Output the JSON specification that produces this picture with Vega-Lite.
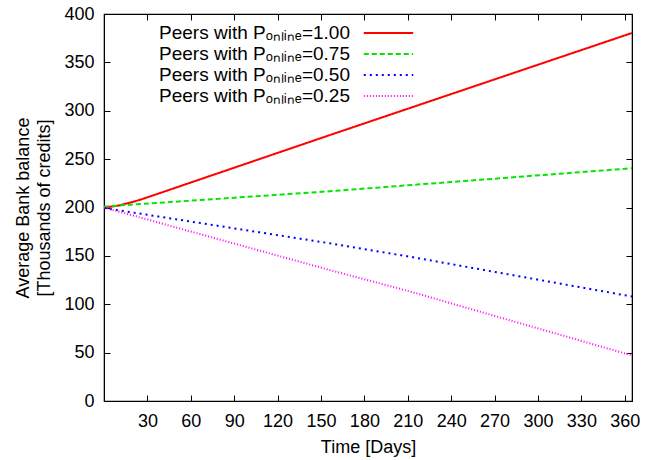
{
  "$schema": "https://vega.github.io/schema/vega-lite/v6.json",
  "width": 528,
  "height": 387,
  "autosize": "none",
  "padding": {"left": 104, "top": 14, "right": 33, "bottom": 59},
  "background": "white",
  "config": {
    "font": "Liberation Sans",
    "view": {"stroke": "black", "strokeWidth": 1.2},
    "axis": {
      "grid": false,
      "domainColor": "black",
      "tickColor": "black",
      "labelColor": "black",
      "titleColor": "black",
      "labelFontSize": 18,
      "titleFontSize": 18,
      "titleFontWeight": "normal",
      "tickSize": -6,
      "labelFlush": false,
      "labelOverlap": false
    }
  },
  "data": {
    "values": [
      {"p": "1.00", "day": 0, "balance": 200},
      {"p": "1.00", "day": 5, "balance": 200.8},
      {"p": "1.00", "day": 10, "balance": 202},
      {"p": "1.00", "day": 15, "balance": 203.8},
      {"p": "1.00", "day": 20, "balance": 205.8},
      {"p": "1.00", "day": 25, "balance": 208},
      {"p": "1.00", "day": 30, "balance": 210.5},
      {"p": "1.00", "day": 156, "balance": 274.8},
      {"p": "1.00", "day": 365, "balance": 380.4},
      {"p": "0.75", "day": 0, "balance": 201},
      {"p": "0.75", "day": 156, "balance": 216.8},
      {"p": "0.75", "day": 365, "balance": 240.6},
      {"p": "0.50", "day": 0, "balance": 199.5},
      {"p": "0.50", "day": 156, "balance": 163},
      {"p": "0.50", "day": 212, "balance": 149},
      {"p": "0.50", "day": 365, "balance": 108},
      {"p": "0.25", "day": 0, "balance": 200},
      {"p": "0.25", "day": 156, "balance": 135.4},
      {"p": "0.25", "day": 212, "balance": 113},
      {"p": "0.25", "day": 365, "balance": 47}
    ]
  },
  "layer": [
    {
      "mark": {"type": "line", "strokeWidth": 2, "clip": true},
      "encoding": {
        "x": {
          "field": "day", "type": "quantitative",
          "scale": {"domain": [0, 365], "nice": false, "zero": false},
          "axis": {"values": [30, 60, 90, 120, 150, 180, 210, 240, 270, 300, 330, 360], "title": "Time [Days]", "labelPadding": 17, "titlePadding": 8}
        },
        "y": {
          "field": "balance", "type": "quantitative",
          "scale": {"domain": [0, 400], "nice": false},
          "axis": {"values": [0, 50, 100, 150, 200, 250, 300, 350, 400], "title": ["Average Bank balance", "[Thousands of credits]"], "labelPadding": 16, "titlePadding": 10, "titleLineHeight": 21}
        },
        "color": {
          "field": "p", "type": "nominal",
          "scale": {"domain": ["1.00", "0.75", "0.50", "0.25"], "range": ["#ff0000", "#00e600", "#0000ff", "#ff00ff"]},
          "legend": {
            "orient": "none", "legendX": 274, "legendY": 8.5,
            "title": null,
            "symbolType": "M-2.6,0H2.6", "symbolSize": 361, "symbolStrokeWidth": 2,
            "labelFontSize": 19, "labelColor": "black", "labelAlign": "right", "labelOffset": -49,
            "rowPadding": 0, "labelLimit": 400,
            "labelExpr": "'Peers with Pₒₙₗᵢₙₑ=' + datum.label"
          }
        },
        "strokeDash": {
          "field": "p", "type": "nominal",
          "scale": {"domain": ["1.00", "0.75", "0.50", "0.25"], "range": [[1, 0], [5, 3], [2, 4], [1, 2]]},
          "legend": {
            "orient": "none", "legendX": 274, "legendY": 8.5,
            "title": null,
            "symbolType": "M-2.6,0H2.6", "symbolSize": 361, "symbolStrokeWidth": 2,
            "labelFontSize": 19, "labelColor": "black", "labelAlign": "right", "labelOffset": -49,
            "rowPadding": 0, "labelLimit": 400,
            "labelExpr": "'Peers with Pₒₙₗᵢₙₑ=' + datum.label"
          }
        }
      }
    },
    {
      "mark": {"type": "line", "opacity": 0},
      "encoding": {
        "x": {
          "field": "day", "type": "quantitative",
          "axis": {"orient": "top", "values": [30, 60, 90, 120, 150, 180, 210, 240, 270, 300, 330, 360], "labels": false, "title": null}
        },
        "y": {
          "field": "balance", "type": "quantitative",
          "axis": {"orient": "right", "values": [0, 50, 100, 150, 200, 250, 300, 350, 400], "labels": false, "title": null}
        },
        "detail": {"field": "p"}
      }
    }
  ],
  "resolve": {"axis": {"x": "independent", "y": "independent"}}
}
